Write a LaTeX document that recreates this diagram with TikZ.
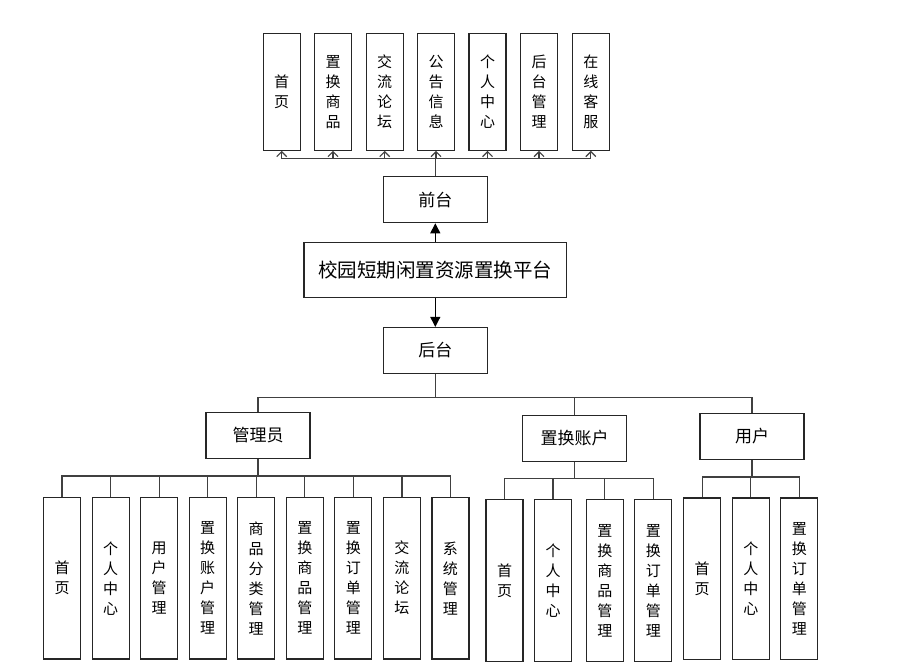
\documentclass[tikz,border=0pt]{standalone}
\usepackage{fontspec}
\setmainfont{Noto Sans CJK SC}
\usetikzlibrary{arrows.meta}
\begin{document}
\begin{tikzpicture}[x=1pt,y=-1pt,
  box/.style={draw=black!85,line width=1.2pt,fill=white,inner sep=0pt,align=center},
  leaf/.style={box,minimum width=37pt,font=\fontsize{15}{20}\selectfont},
  toprow/.style={leaf,minimum height=117pt},
  midbox/.style={box,minimum width=104pt,minimum height=46pt,font=\fontsize{17}{20}\selectfont},
  link/.style={draw=black!75,line width=1.2pt},
  barb/.style={link,-{Straight Barb[length=5pt,width=10pt]}},
  bigarrow/.style={draw=black,line width=1.2pt,-{Triangle[length=10pt,width=10pt]}}]
\useasboundingbox (0,0) rectangle (921,671);
% top row
\node[toprow] (t1) at (281.7,91.7) {首\\页};
\node[toprow] (t2) at (333,91.7) {置\\换\\商\\品};
\node[toprow] (t3) at (384.7,91.7) {交\\流\\论\\坛};
\node[toprow] (t4) at (436,91.7) {公\\告\\信\\息};
\node[toprow] (t5) at (487.5,91.7) {个\\人\\中\\心};
\node[toprow] (t6) at (539,91.7) {后\\台\\管\\理};
\node[toprow] (t7) at (590.8,91.7) {在\\线\\客\\服};
% middle
\node[midbox] (qt) at (435.3,199.7) {前台};
\node[box,minimum width=262.7pt,minimum height=55.4pt,font=\fontsize{19.5}{22}\selectfont] (main) at (435.3,270) {校园短期闲置资源置换平台};
\node[midbox] (ht) at (435.3,350.5) {后台};
% second level
\node[midbox] (gly) at (258,435.5) {管理员};
\node[midbox] (zhzh) at (574.7,438.2) {置换账户};
\node[midbox] (yh) at (752,436.3) {用户};
% admin leaves
\node[leaf,minimum height=161.7pt] (a1) at (62,578.2) {首\\页};
\node[leaf,minimum height=161.7pt] (a2) at (110.6,578.2) {个\\人\\中\\心};
\node[leaf,minimum height=161.7pt] (a3) at (159.1,578.2) {用\\户\\管\\理};
\node[leaf,minimum height=161.7pt] (a4) at (207.7,578.2) {置\\换\\账\\户\\管\\理};
\node[leaf,minimum height=161.7pt] (a5) at (256.2,578.2) {商\\品\\分\\类\\管\\理};
\node[leaf,minimum height=161.7pt] (a6) at (304.8,578.2) {置\\换\\商\\品\\管\\理};
\node[leaf,minimum height=161.7pt] (a7) at (353.3,578.2) {置\\换\\订\\单\\管\\理};
\node[leaf,minimum height=161.7pt] (a8) at (401.9,578.2) {交\\流\\论\\坛};
\node[leaf,minimum height=161.7pt] (a9) at (450.4,578.2) {系\\统\\管\\理};
% exchange account leaves
\node[leaf,minimum height=162.4pt] (b1) at (504.5,580.5) {首\\页};
\node[leaf,minimum height=162.4pt] (b2) at (553,580.5) {个\\人\\中\\心};
\node[leaf,minimum height=162.4pt] (b3) at (604.8,580.5) {置\\换\\商\\品\\管\\理};
\node[leaf,minimum height=162.4pt] (b4) at (653.3,580.5) {置\\换\\订\\单\\管\\理};
% user leaves
\node[leaf,minimum height=161.3pt] (c1) at (702.2,578.7) {首\\页};
\node[leaf,minimum height=161.3pt] (c2) at (750.8,578.7) {个\\人\\中\\心};
\node[leaf,minimum height=161.3pt] (c3) at (799.3,578.7) {置\\换\\订\\单\\管\\理};
% top connectors
\coordinate (topbus) at (435.3,158.3);
\draw[link] (qt.north) -- (topbus);
\foreach \t in {t1,t2,t3,t4,t5,t6,t7}
  \draw[barb] (topbus) -| (\t.south);
% main arrows
\draw[bigarrow] (main.north) -- (qt.south);
\draw[bigarrow] (main.south) -- (ht.north);
% second level bus
\coordinate (midbus) at (435.3,397.7);
\draw[link] (ht.south) -- (midbus);
\foreach \n in {gly,zhzh,yh}
  \draw[link] (midbus) -| (\n.north);
% admin bus
\coordinate (abus) at (258,476);
\draw[link] (gly.south) -- (abus);
\foreach \n in {a1,a2,a3,a4,a5,a6,a7,a8,a9}
  \draw[link] (abus) -| (\n.north);
% exchange bus
\coordinate (bbus) at (574.7,478.7);
\draw[link] (zhzh.south) -- (bbus);
\foreach \n in {b1,b2,b3,b4}
  \draw[link] (bbus) -| (\n.north);
% user bus
\coordinate (cbus) at (752,477);
\draw[link] (yh.south) -- (cbus);
\foreach \n in {c1,c2,c3}
  \draw[link] (cbus) -| (\n.north);
\end{tikzpicture}
\end{document}
